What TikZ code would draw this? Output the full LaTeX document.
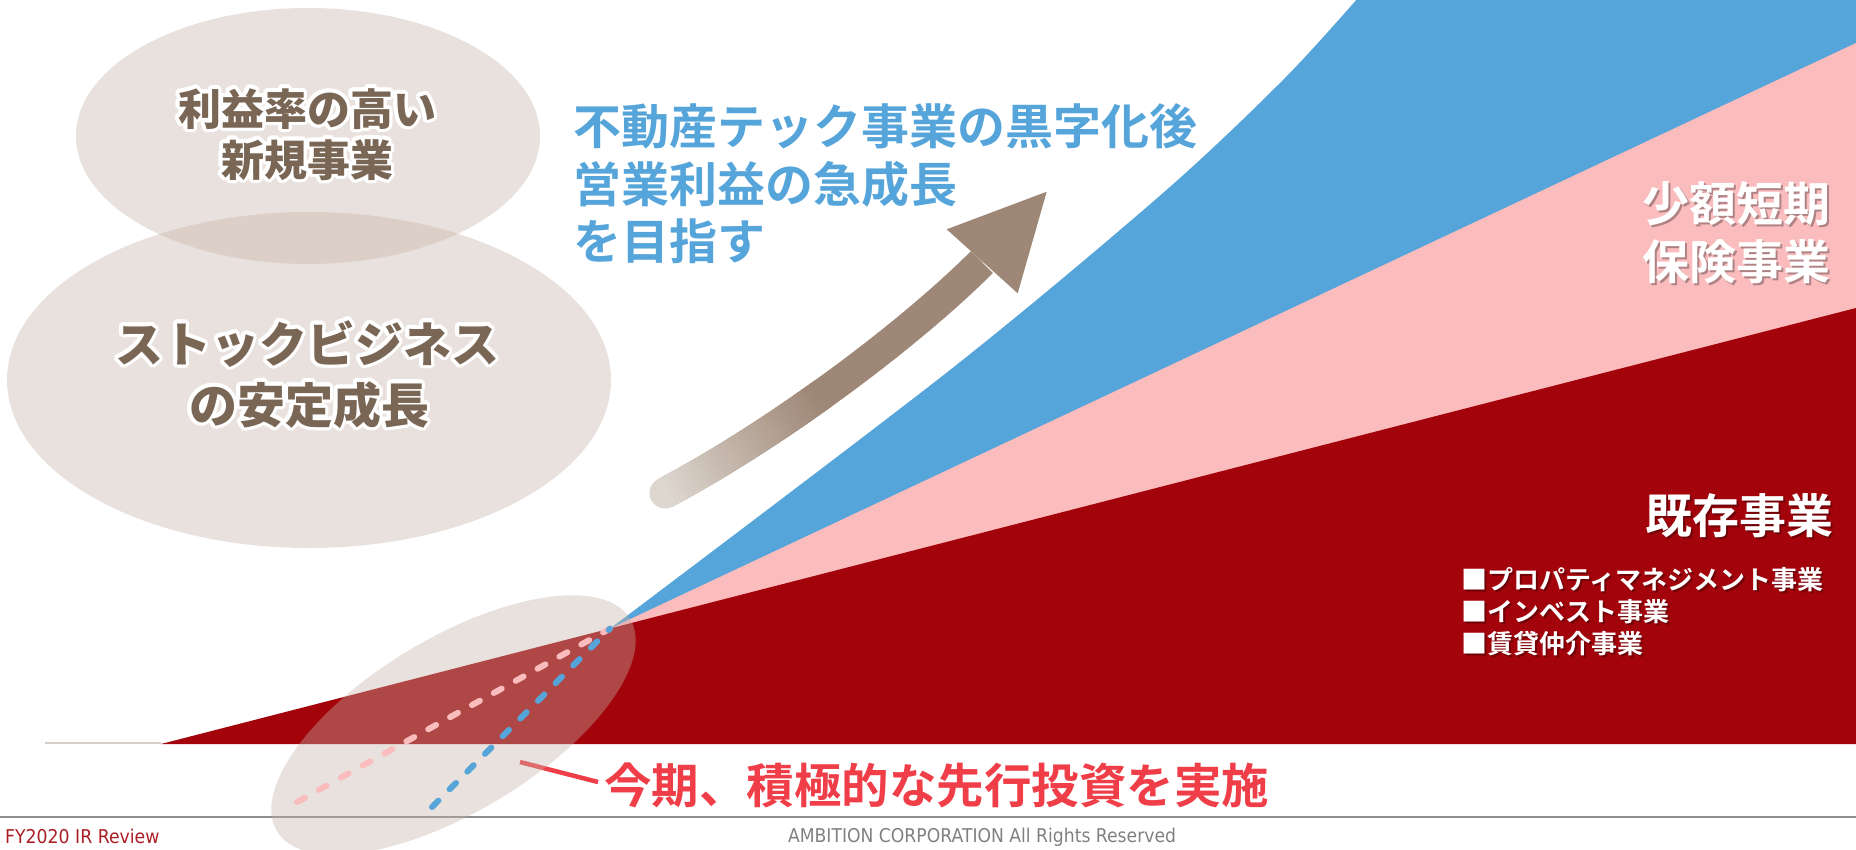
\documentclass[tikz,border=0pt]{standalone}
\usepackage{fontspec}
\usepackage{graphicx}
\usetikzlibrary{calc,shapes.geometric}
\newfontfamily\jpb{Noto Sans CJK JP Bold}
\newfontfamily\jpk{Noto Sans CJK JP Black}
\newfontfamily\dvs{DejaVu Sans}
\definecolor{cblue}{RGB}{86,165,218}
\definecolor{cpink}{RGB}{251,188,190}
\definecolor{cred}{RGB}{163,4,11}
\definecolor{cbeige}{RGB}{197,178,167}
\definecolor{tbrown}{RGB}{122,102,84}
\definecolor{abrown}{RGB}{158,135,118}
\definecolor{alight}{RGB}{222,215,208}
\definecolor{tred}{RGB}{240,62,72}
\definecolor{fred}{RGB}{170,30,38}
\definecolor{fgray}{RGB}{128,128,128}
\definecolor{lgray}{RGB}{214,205,198}
\newcommand\jfs[1]{\jpb\fontsize{#1}{#1}\selectfont}
\newcommand\kfs[1]{\jpk\fontsize{#1}{#1}\selectfont}
% brown text with white halo: name, anchor, position, size, text
\newcommand\halotext[5]{%
  \foreach \ang in {0,22.5,...,337.5}{%
    \node[anchor=#2, inner sep=0, text=white, font=\kfs{#4}] at ($(#3)+(\ang:3.5)$) {#5};}%
  \node[anchor=#2, inner sep=0, text=tbrown, font=\kfs{#4}] (#1) at (#3) {#5};}
% white text with soft shadow: name, anchor, position, size, text
\newcommand\shadowtext[5]{%
  \node[anchor=#2, inner sep=0, text=black, text opacity=0.3, font=\jfs{#4}] at ($(#3)+(2,2)$) {#5};%
  \node[anchor=#2, inner sep=0, text=white, font=\jfs{#4}] (#1) at (#3) {#5};}
\begin{document}
\begin{tikzpicture}[x=1pt,y=-1pt,
  bubble/.style={ellipse, fill=cbeige, fill opacity=0.39, draw=none, inner sep=0},
  dashline/.style={line width=6pt, line cap=round, dash pattern=on 9pt off 16pt},
  jline/.style={anchor=base west, inner sep=0}]
\useasboundingbox (0,0) rectangle (1856,849);
\coordinate (conv) at (610,628.6);
% areas
\fill[cblue] plot[smooth] coordinates {(610,628.6) (950,370) (1163,193) (1283,80) (1358,-2)}
  -- (1856,-2) -- (1856,200) -- cycle;
\fill[cpink] (conv) -- (1856,43) -- (1856,400) -- cycle;
\fill[cred] (161,744) -- (1856,308) -- (1856,744) -- cycle;
\draw[lgray, line width=2pt] (45,743) -- (161,743);
% footer line
\draw[fgray!90, line width=2pt] (0,817) -- (1856,817);
% leader line
\coordinate (l1) at (520,762);
\coordinate (l2) at (598,782);
\draw[tred, line width=4.5pt] (l1) -- (l2);
% bubbles
\node[bubble, minimum width=464pt, minimum height=256pt] (e1) at (308,136) {};
\node[bubble, minimum width=604pt, minimum height=336pt] (e2) at (309,380) {};
\node[bubble, minimum width=412pt, minimum height=174pt, rotate=31] (e3) at (453.5,725) {};
% dashed lines
\coordinate (pe) at (297,802);
\coordinate (be) at (432,807);
\draw[cpink, dashline] (pe) -- (conv);
\draw[cblue, dashline] (be) -- (conv);
% arrow shaft with gradient
\coordinate (tail) at (665,493);
\coordinate (hbase) at (982,262);
\draw[abrown, line width=31pt] (tail) .. controls (780,432) and (911,333) .. (hbase);
\fill[alight] (tail) circle[radius=15.5pt];
\foreach \k in {0,...,35}{
  \pgfmathsetmacro\ta{\k/80}
  \pgfmathsetmacro\tb{(\k+1.3)/80}
  \pgfmathsetmacro\xa{(1-\ta)^3*665+3*(1-\ta)^2*\ta*780+3*(1-\ta)*\ta^2*911+\ta^3*982}
  \pgfmathsetmacro\ya{(1-\ta)^3*493+3*(1-\ta)^2*\ta*432+3*(1-\ta)*\ta^2*333+\ta^3*262}
  \pgfmathsetmacro\xb{(1-\tb)^3*665+3*(1-\tb)^2*\tb*780+3*(1-\tb)*\tb^2*911+\tb^3*982}
  \pgfmathsetmacro\yb{(1-\tb)^3*493+3*(1-\tb)^2*\tb*432+3*(1-\tb)*\tb^2*333+\tb^3*262}
  \pgfmathsetmacro\pc{min(100,\k*100/34)}
  \draw[line width=31pt, line cap=butt, draw=abrown!\pc!alight] (\xa,\ya) -- (\xb,\yb);
}
\fill[abrown] (946.7,229.3) -- (1046.7,191.7) -- (1017.7,293.3) -- cycle;
% brown texts
\halotext{t1}{base}{307,125}{43pt}{利益率の高い}
\halotext{t2}{base}{307,176}{43pt}{新規事業}
\halotext{t3}{base}{307,362}{48pt}{ストックビジネス}
\halotext{t4}{base}{309,423}{48pt}{の安定成長}
% blue texts
\node[jline, text=cblue, font=\jfs{48pt}] (b1) at (573,144) {不動産テック事業の黒字化後};
\node[jline, text=cblue, font=\jfs{48pt}] (b2) at (573,202) {営業利益の急成長};
\node[jline, text=cblue, font=\jfs{48pt}] (b3) at (573,259) {を目指す};
% white labels
\shadowtext{w1}{base east}{1831,221}{47pt}{少額短期}
\shadowtext{w2}{base east}{1831,279}{47pt}{保険事業}
\shadowtext{w3}{base east}{1834,533}{47pt}{既存事業}
\shadowtext{w4}{base west}{1461,589}{26pt}{■プロパティマネジメント事業}
\shadowtext{w5}{base west}{1461,621}{26pt}{■インベスト事業}
\shadowtext{w6}{base west}{1461,653}{26pt}{■賃貸仲介事業}
% red statement
\node[jline, text=tred, font=\jfs{47.5pt}] (r1) at (604,803) {今期、積極的な先行投資を実施};
% footer
\node[anchor=base west, inner sep=0, text=fred, font=\dvs\fontsize{19pt}{19pt}\selectfont] (f1) at (5,843) {\scalebox{0.91}[1]{FY2020 IR Review}};
\node[anchor=base, inner sep=0, text=fgray, font=\dvs\fontsize{19pt}{19pt}\selectfont] (f2) at (982,842) {\scalebox{0.905}[1]{AMBITION CORPORATION All Rights Reserved}};
\end{tikzpicture}
\end{document}
